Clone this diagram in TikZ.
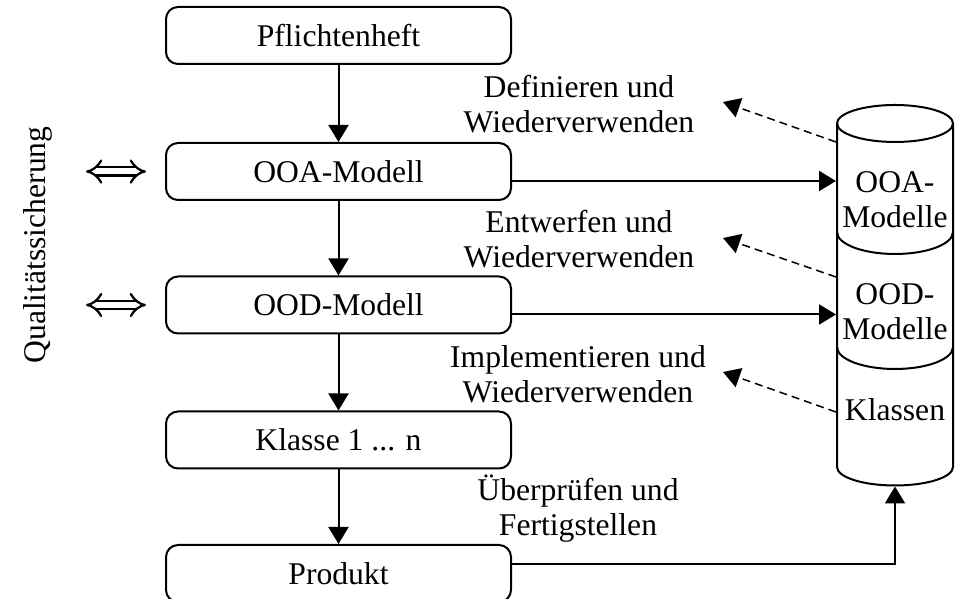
\documentclass[tikz,border=0pt]{standalone}
\usepackage{fontspec}
\setmainfont{Liberation Serif}
\usetikzlibrary{arrows.meta}

\begin{document}
\begin{tikzpicture}[
    font=\fontsize{18}{20}\selectfont,
    line width=0.04cm,
    kasten/.style={draw, rounded corners=0.24cm, minimum width=6.9cm, minimum height=1.14cm},
    pfeil/.style={-{Triangle[length=0.34cm, width=0.4cm]}},
    strich/.style={pfeil, dash pattern=on 0.16cm off 0.1cm, line width=0.03cm},
    qspfeil/.style={double, double distance=0.12cm, line width=0.045cm, {Implies}-{Implies}},
    beschr/.style={align=center, inner sep=0pt}
]
    \useasboundingbox (0, 0) rectangle (19.16, 11.98);

    \node[kasten] (pflicht) at(6.77, 11.27) {Pflichtenheft};
    \node[kasten] (ooa) at(6.77, 8.55) {OOA-Modell};
    \node[kasten] (ood) at(6.77, 5.88) {OOD-Modell};
    \node[kasten] (klasse) at(6.77, 3.18) {Klasse 1 ... n};
    \node[kasten] (produkt) at(6.77, 0.51) {Produkt};

    \foreach \a/\b in {pflicht/ooa, ooa/ood, ood/klasse, klasse/produkt}
    {\draw[pfeil] (\a) -- (\b);}

    \node[rotate=90] (qs) at(0.76, 7.08) {Qualitätssicherung};
    \foreach \k in {ooa, ood}
    {\draw[qspfeil] ([xshift=-1.58cm]\k.west) -- ([xshift=-0.38cm]\k.west);}

    \node[minimum width=2.32cm, minimum height=6.87cm, inner sep=0] (lager) at(17.9, 6.075) {};
    \draw (16.74, 9.51) -- (16.74, 2.64) arc[start angle=180, end angle=360, x radius=1.16, y radius=0.37] -- (19.06, 9.51);
    \draw (17.9, 9.51) ellipse[x radius=1.16, y radius=0.37];
    \foreach \y in {7.34, 5.04}
    {\draw (16.74, \y) arc[start angle=180, end angle=360, x radius=1.16, y radius=0.44];}

    \node[beschr] (ooam) at(17.9, 7.99) {OOA-\\Modelle};
    \node[beschr] (oodm) at(17.9, 5.75) {OOD-\\Modelle};
    \node[beschr] (klassen) at(17.9, 3.78) {Klassen};

    \draw[pfeil] ([yshift=-0.19cm]ooa.east) -- ([yshift=-0.19cm]ooa.east -| lager.west);
    \draw[pfeil] ([yshift=-0.19cm]ood.east) -- ([yshift=-0.19cm]ood.east -| lager.west);
    \draw[pfeil] ([yshift=0.19cm]produkt.east) -| ([yshift=-0.37cm]lager.south);

    \node[beschr] (def) at(11.58, 9.89) {Definieren und\\Wiederverwenden};
    \node[beschr] (ent) at(11.58, 7.2) {Entwerfen und\\Wiederverwenden};
    \node[beschr] (imp) at(11.56, 4.49) {Implementieren und\\Wiederverwenden};
    \node[beschr] (ueb) at(11.56, 1.81) {Überprüfen und\\Fertigstellen};

    \coordinate (d1) at(14.46, 9.94);
    \coordinate (d2) at(14.46, 7.22);
    \coordinate (d3) at(14.46, 4.54);
    \draw[strich] ([yshift=3.065cm]lager.west) -- (d1);
    \draw[strich] ([yshift=0.365cm]lager.west) -- (d2);
    \draw[strich] ([yshift=-2.335cm]lager.west) -- (d3);
\end{tikzpicture}
\end{document}
